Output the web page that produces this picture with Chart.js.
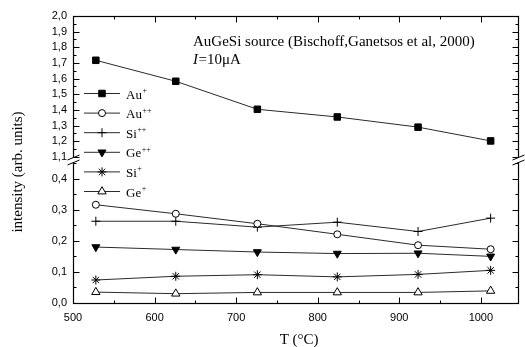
<!DOCTYPE html>
<html>
<head>
<meta charset="utf-8">
<script src="https://cdn.jsdelivr.net/npm/chart.js@4/dist/chart.umd.min.js"></script>
<style>
  html, body { margin: 0; padding: 0; background: #fff; }
</style>
</head>
<body>
<canvas id="chart" width="525" height="347"></canvas>
<script>
// temperatures (°C) of the measurements
const temps = [528, 626, 726, 824, 923, 1012];

// intensities (arb. units)
const auPlus   = [1.717, 1.583, 1.404, 1.355, 1.290, 1.202];
const auPlus2  = [0.316, 0.287, 0.255, 0.221, 0.186, 0.173];
const siPlus2  = [0.263, 0.263, 0.244, 0.260, 0.230, 0.273];
const gePlus2  = [0.180, 0.172, 0.164, 0.159, 0.160, 0.150];
const siPlus   = [0.074, 0.086, 0.091, 0.084, 0.092, 0.105];
const gePlus   = [0.035, 0.030, 0.034, 0.034, 0.034, 0.039];

const seriesNames = ['Au+', 'Au++', 'Si++', 'Ge++', 'Si+', 'Ge+'];
const seriesValues = [auPlus, auPlus2, siPlus2, gePlus2, siPlus, gePlus];

// tick labels
const xTicks = [500, 600, 700, 800, 900, 1000];
const yTopTicks = [1.1, 1.2, 1.3, 1.4, 1.5, 1.6, 1.7, 1.8, 1.9, 2.0];
const yLowTicks = [0.0, 0.1, 0.2, 0.3, 0.4];

const markers = [
  { style: 'rect', radius: 4.6, fill: '#000', rotation: 0 },
  { style: 'circle', radius: 3.5, fill: '#fff', rotation: 0 },
  { style: 'cross', radius: 4.5, fill: '#000', rotation: 0 },
  { style: 'triangle', radius: 4.6, fill: '#000', rotation: 180 },
  { style: 'star', radius: 4.5, fill: '#000', rotation: 0 },
  { style: 'triangle', radius: 4.8, fill: '#fff', rotation: 0 },
];

const serif = '"Liberation Serif", "Times New Roman", serif';
const sans = '"Liberation Sans", Arial, sans-serif';

const datasets = seriesNames.map((name, i) => ({
  label: name,
  data: temps.map((t, j) => ({ x: t, y: seriesValues[i][j] })),
  yAxisID: i === 0 ? 'yTop' : 'y',
  borderColor: '#2a2a2a',
  borderWidth: 1,
  pointStyle: markers[i].style,
  pointRadius: markers[i].radius,
  pointRotation: markers[i].rotation,
  pointBackgroundColor: markers[i].fill,
  pointBorderColor: '#000',
  pointBorderWidth: 1,
  tension: 0,
}));

const comma = v => Number(v).toFixed(1).replace('.', ',');

// text with a raised charge, e.g. Au + "++"
function supText(ctx, base, sup, x, y, size) {
  ctx.font = size + 'px ' + serif;
  ctx.fillText(base, x, y);
  const w = ctx.measureText(base).width;
  if (sup) {
    ctx.font = Math.round(size * 0.62) + 'px ' + serif;
    ctx.fillText(sup, x + w + 0.5, y - size * 0.42);
  }
}

const decor = {
  id: 'decor',
  afterDatasetsDraw(chart) {
    const ctx = chart.ctx;
    const a = chart.chartArea;
    const sx = chart.scales.x, yt = chart.scales.yTop, yl = chart.scales.y;
    const L = Math.round(a.left) + 0.5, R = Math.round(a.right) - 0.5;
    const T = Math.round(a.top) + 0.5, B = Math.round(a.bottom) + 0.5;
    const brk = yt.bottom;

    ctx.save();
    ctx.strokeStyle = '#000';
    ctx.lineWidth = 1.2;
    ctx.strokeRect(L, T, R - L, B - T);

    // inward ticks
    ctx.lineWidth = 1;
    const hTick = (x, len) => {
      ctx.beginPath();
      ctx.moveTo(x, B); ctx.lineTo(x, B - len);
      ctx.moveTo(x, T); ctx.lineTo(x, T + len);
      ctx.stroke();
    };
    const vTick = (y, len) => {
      ctx.beginPath();
      ctx.moveTo(L, y); ctx.lineTo(L + len, y);
      ctx.moveTo(R, y); ctx.lineTo(R - len, y);
      ctx.stroke();
    };
    xTicks.forEach(v => {
      hTick(Math.round(sx.getPixelForValue(v)) + 0.5, 6);
      const m = v + 50;
      if (m <= sx.max) hTick(Math.round(sx.getPixelForValue(m)) + 0.5, 3);
    });
    yTopTicks.forEach(v => {
      vTick(Math.round(yt.getPixelForValue(v)) + 0.5, 6);
      const m = v + 0.05;
      if (m < yt.max) vTick(Math.round(yt.getPixelForValue(m)) + 0.5, 3);
    });
    yLowTicks.forEach(v => {
      vTick(Math.round(yl.getPixelForValue(v)) + 0.5, 6);
      const m = v + 0.05;
      if (m < yl.max) vTick(Math.round(yl.getPixelForValue(m)) + 0.5, 3);
    });

    // axis break marks
    [L, R].forEach(x => {
      ctx.fillStyle = '#fff';
      ctx.fillRect(x - 2, brk - 2, 4, 4);
      ctx.beginPath();
      ctx.moveTo(x - 6, brk + 0); ctx.lineTo(x + 6, brk - 5);
      ctx.moveTo(x - 6, brk + 5); ctx.lineTo(x + 6, brk + 0);
      ctx.stroke();
    });

    // legend
    ctx.fillStyle = '#000';
    ctx.textBaseline = 'alphabetic';
    ctx.textAlign = 'left';
    seriesNames.forEach((name, i) => {
      const y = 93.5 + i * 19.6;
      ctx.strokeStyle = '#2a2a2a';
      ctx.lineWidth = 1;
      ctx.beginPath();
      ctx.moveTo(84, y); ctx.lineTo(120, y);
      ctx.stroke();
      ctx.strokeStyle = '#000';
      ctx.fillStyle = markers[i].fill;
      Chart.helpers.drawPoint(ctx, {
        pointStyle: markers[i].style,
        radius: markers[i].radius,
        rotation: markers[i].rotation,
        borderWidth: 1,
      }, 102, y);
      ctx.fillStyle = '#000';
      const [, base, sup] = name.match(/^([A-Za-z]+)(\+*)$/);
      supText(ctx, base, sup, 126, y + 5, 13);
    });

    // annotation
    ctx.font = '15px ' + serif;
    ctx.fillText('AuGeSi source (Bischoff,Ganetsos et al, 2000)', 193, 46);
    ctx.font = 'italic 15px ' + serif;
    ctx.fillText('I', 193, 64);
    const wI = ctx.measureText('I').width;
    ctx.font = '15px ' + serif;
    ctx.fillText('=10\u03bcA', 193 + wI + 0.5, 64);

    // axis titles
    ctx.font = '15px ' + serif;
    ctx.textAlign = 'center';
    ctx.fillText('T (\u00b0C)', (a.left + a.right) / 2 + 3, 344);
    ctx.save();
    ctx.translate(22, 172);
    ctx.rotate(-Math.PI / 2);
    ctx.fillText('intensity (arb. units)', 0, 0);
    ctx.restore();
    ctx.restore();
  }
};

const tickFont = { family: sans, size: 11 };

new Chart(document.getElementById('chart'), {
  type: 'line',
  data: { datasets },
  plugins: [decor],
  options: {
    responsive: false,
    animation: false,
    layout: { padding: { top: 16, right: 1, left: 0, bottom: 0 } },
    plugins: { legend: { display: false }, tooltip: { enabled: false } },
    scales: {
      x: {
        type: 'linear',
        min: 500,
        max: 1047,
        grid: { display: false, drawTicks: false },
        border: { display: false },
        afterBuildTicks: s => { s.ticks = xTicks.map(v => ({ value: v })); },
        afterFit: s => { s.height = 44; },
        ticks: { color: '#000', font: tickFont, padding: 8, maxRotation: 0, autoSkip: false, callback: v => String(v) },
      },
      // left boxes are laid out in reverse order, so the lower part comes first
      y: {
        type: 'linear',
        position: 'left',
        stack: 'intensity',
        stackWeight: 143,
        min: 0,
        max: 0.46,
        grid: { display: false, drawTicks: false },
        border: { display: false },
        afterBuildTicks: s => { s.ticks = yLowTicks.map(v => ({ value: v })); },
        afterFit: s => { s.width = 73; },
        ticks: { color: '#000', font: tickFont, padding: 6, autoSkip: false, callback: comma },
      },
      yTop: {
        type: 'linear',
        position: 'left',
        stack: 'intensity',
        stackWeight: 144,
        min: 1.08,
        max: 2.0,
        grid: { display: false, drawTicks: false },
        border: { display: false },
        afterBuildTicks: s => { s.ticks = yTopTicks.map(v => ({ value: v })); },
        afterFit: s => { s.width = 73; },
        ticks: { color: '#000', font: tickFont, padding: 6, autoSkip: false, callback: comma },
      },
    },
  },
});
</script>
</body>
</html>
